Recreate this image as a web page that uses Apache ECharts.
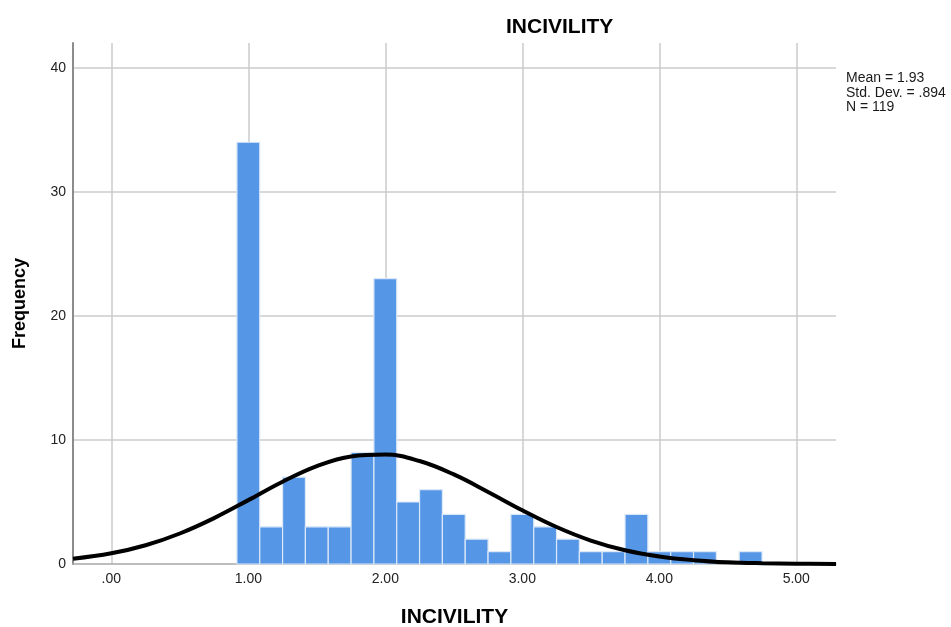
<!DOCTYPE html>
<html>
<head>
<meta charset="utf-8">
<script src="https://cdn.jsdelivr.net/npm/echarts@6/dist/echarts.min.js"></script>
<style>
  html, body { margin: 0; padding: 0; background: #fff; }
</style>
</head>
<body>
<div id="chart" style="width: 951px; height: 627px;"></div>
<script>
// histogram bins (width 1/6), centred on these values
const binCenters = [1.0, 1.1667, 1.3333, 1.5, 1.6667, 1.8333, 2.0, 2.1667, 2.3333, 2.5, 2.6667, 2.8333,
  3.0, 3.1667, 3.3333, 3.5, 3.6667, 3.8333, 4.0, 4.1667, 4.3333, 4.5, 4.6667];
const counts = [34, 3, 7, 3, 3, 9, 23, 5, 6, 4, 2, 1,
  4, 3, 2, 1, 1, 4, 1, 1, 1, 0, 1];
const binWidth = 1 / 6;

// normal curve
const curveX = [-0.28, 0, 0.25, 0.5, 0.75, 1.0, 1.25, 1.5, 1.75, 2.0, 2.25, 2.5, 2.75,
  3.0, 3.25, 3.5, 3.75, 4.0, 4.25, 4.5, 4.75, 5.0, 5.29];
const curveY = [0.42, 0.86, 1.51, 2.46, 3.70, 5.15, 6.63, 7.89, 8.67, 8.82, 8.30, 7.22, 5.81,
  4.33, 2.98, 1.89, 1.11, 0.61, 0.31, 0.14, 0.06, 0.02, 0.01];

const xTicks = [0, 1, 2, 3, 4, 5];
const xTickLabels = ['.00', '1.00', '2.00', '3.00', '4.00', '5.00'];

const statsLines = ['Mean = 1.93', 'Std. Dev. = .894', 'N = 119'];

const chart = echarts.init(document.getElementById('chart'));

const gridColor = '#cbcbcb';

const option = {
  animation: false,
  title: {
    text: 'INCIVILITY',
    left: 501,
    top: 12,
    textStyle: { fontFamily: 'Liberation Sans', fontSize: 21, fontWeight: 'bold', color: '#000' }
  },
  grid: { left: 73, right: 115, top: 43, bottom: 63, outerBoundsMode: 'none', containLabel: false },
  xAxis: {
    type: 'value',
    min: -0.28,
    max: 5.29,
    name: 'INCIVILITY',
    nameLocation: 'middle',
    nameGap: 43,
    nameTextStyle: { fontFamily: 'Liberation Sans', fontSize: 21, fontWeight: 'bold', color: '#000' },
    axisLine: { show: true, onZero: false, lineStyle: { color: '#a8a8a8', width: 1.5 } },
    axisTick: { show: false, customValues: xTicks },
    axisLabel: {
      fontFamily: 'Liberation Sans', fontSize: 14, color: '#222', margin: 8,
      customValues: xTicks,
      formatter: v => xTickLabels[xTicks.indexOf(Math.round(v))]
    },
    splitLine: { show: true, lineStyle: { color: gridColor, width: 1.5 } }
  },
  yAxis: {
    type: 'value',
    min: 0,
    max: 42,
    interval: 10,
    name: 'Frequency',
    nameLocation: 'middle',
    nameGap: 44,
    nameRotate: 90,
    nameTextStyle: { fontFamily: 'Liberation Sans', fontSize: 18, fontWeight: 'bold', color: '#000' },
    axisLine: { show: true, onZero: false, lineStyle: { color: '#8c8c8c', width: 2 } },
    axisTick: { show: false },
    axisLabel: {
      fontFamily: 'Liberation Sans', fontSize: 14, color: '#222', margin: 7,
      showMaxLabel: false,
      formatter: v => (v % 10 === 0 ? String(v) : '')
    },
    splitLine: {
      show: true,
      lineStyle: { color: ['transparent', gridColor, gridColor, gridColor, gridColor, 'transparent'], width: 1.5 }
    }
  },
  graphic: [{
    type: 'text',
    left: 846,
    top: 71,
    style: {
      text: statsLines.join('\n'),
      fontFamily: 'Liberation Sans',
      fontSize: 14,
      lineHeight: 14.5,
      fill: '#1a1a1a'
    }
  }],
  series: [
    {
      type: 'custom',
      data: binCenters.map((c, i) => [c, counts[i]]),
      renderItem: (params, api) => {
        const c = api.value(0), n = api.value(1);
        if (!n) return;
        const p0 = api.coord([c - binWidth / 2, n]);
        const p1 = api.coord([c + binWidth / 2, 0]);
        return {
          type: 'rect',
          shape: { x: p0[0], y: p0[1], width: p1[0] - p0[0], height: p1[1] - p0[1] },
          style: { fill: '#5596e6', stroke: '#dbe8f8', lineWidth: 1.2 }
        };
      },
      z: 2
    },
    {
      type: 'line',
      data: curveX.map((x, i) => [x, curveY[i]]),
      smooth: 0.4,
      symbol: 'none',
      lineStyle: { color: '#000', width: 4 },
      z: 3
    }
  ]
};

chart.setOption(option);
</script>
</body>
</html>
